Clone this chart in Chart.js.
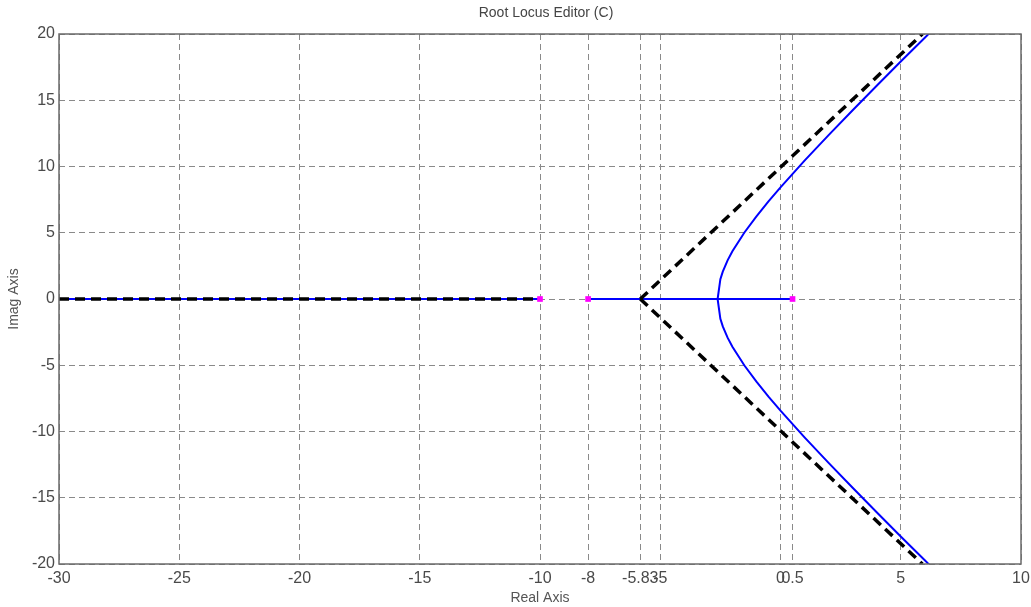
<!DOCTYPE html>
<html>
<head>
<meta charset="utf-8">
<script src="https://cdn.jsdelivr.net/npm/chart.js@4/dist/chart.umd.min.js"></script>
<style>
  html, body { margin: 0; padding: 0; background: #fff; }
  #wrap { width: 1031px; height: 607px; }
</style>
</head>
<body>
<div id="wrap"><canvas id="locus"></canvas></div>
<script>
// tick positions on the real axis (includes centroid -5.83)
const xTicks = [-30, -25, -20, -15, -10, -8, -5.83, -5, 0, 0.5, 5, 10];
const yTicks = [-20, -15, -10, -5, 0, 5, 10, 15, 20];

// open-loop poles
const poleRe = [-10, -8, 0.5];
const poleIm = [0, 0, 0];

// real-axis parts of the locus
const realLeftRe = [-30, -10];
const realMidRe = [-8, 0.5];

// upper complex branch (lower one is its mirror)
const branchRe = [-2.615, -2.5, -2.4, -2.2, -2.0, -1.5, -1.0, -0.5, 0, 1, 2, 3, 4, 5, 6, 6.2];
const branchIm = [0, 1.5, 2.07, 2.92, 3.61, 5.02, 6.24, 7.37, 8.43, 10.44, 12.37, 14.25, 16.09, 17.92, 19.72, 20.08];

// asymptotes
const asymRe = [-5.83, 5.9];
const asymIm = [0, 20];
const asymRealRe = [-30, -10];

const titleText = 'Root Locus Editor (C)';
const font = 'Liberation Sans, Arial, sans-serif';

const pts = (xs, ys) => xs.map((x, i) => ({ x: x, y: ys[i] }));
const onAxis = xs => xs.map(x => ({ x: x, y: 0 }));
const mirror = arr => arr.map(p => ({ x: p.x, y: -p.y }));

const blue = '#0000ff';
const dash = { showLine: true, pointRadius: 0, fill: false, borderColor: '#000', borderWidth: 3.5, borderDash: [10, 6] };
const solid = { showLine: true, pointRadius: 0, fill: false, borderColor: blue, borderWidth: 2 };

const upper = pts(branchRe, branchIm);
const asymUp = pts(asymRe, asymIm);

// box around the axes + title over the plot area
const frame = {
  id: 'frame',
  afterDraw(chart) {
    const { ctx, chartArea: a } = chart;
    ctx.save();
    ctx.strokeStyle = '#6a6a6a';
    ctx.lineWidth = 1.5;
    ctx.setLineDash([]);
    ctx.strokeRect(a.left, a.top, a.right - a.left, a.bottom - a.top);
    ctx.fillStyle = '#444';
    ctx.font = '14px ' + font;
    ctx.textAlign = 'center';
    ctx.textBaseline = 'middle';
    ctx.fillText(titleText, (a.left + a.right) / 2 + 6, 13);
    ctx.restore();
  }
};

new Chart(document.getElementById('locus'), {
  type: 'scatter',
  data: {
    datasets: [
      { data: pts(poleRe, poleIm), pointStyle: 'rect', pointRadius: 4, pointHoverRadius: 4,
        backgroundColor: '#ff00ff', borderColor: '#ff00ff', borderWidth: 0, showLine: false },
      { ...dash, data: asymUp },
      { ...dash, data: mirror(asymUp) },
      { ...dash, data: onAxis(asymRealRe) },
      { ...solid, data: onAxis(realLeftRe) },
      { ...solid, data: onAxis(realMidRe) },
      { ...solid, data: upper },
      { ...solid, data: mirror(upper) }
    ]
  },
  options: {
    responsive: true,
    maintainAspectRatio: false,
    animation: false,
    layout: { padding: { top: 34, right: 10, left: 0, bottom: 0 } },
    plugins: {
      legend: { display: false },
      tooltip: { enabled: false },
      title: { display: false }
    },
    scales: {
      x: {
        type: 'linear',
        min: -30, max: 10,
        afterBuildTicks: s => { s.ticks = xTicks.map(v => ({ value: v })); },
        afterFit: s => { s.height = 43; s.paddingLeft = 0; s.paddingRight = 0; },
        ticks: {
          autoSkip: false, maxRotation: 0, padding: 5, color: '#4a4a4a',
          font: { family: font, size: 16 },
          callback: v => String(v)
        },
        grid: { color: '#8a8a8a', lineWidth: 1, drawTicks: false },
        border: { display: false, dash: [6, 4] },
        title: {
          display: true, text: 'Real Axis', color: '#555',
          font: { family: font, size: 14 },
          padding: { top: 0, bottom: 0 }
        }
      },
      y: {
        type: 'linear',
        min: -20, max: 20,
        afterBuildTicks: s => { s.ticks = yTicks.map(v => ({ value: v })); },
        afterFit: s => { s.width = 59; },
        ticks: {
          padding: 4, color: '#4a4a4a',
          font: { family: font, size: 16 },
          callback: v => String(v)
        },
        grid: { color: '#8a8a8a', lineWidth: 1, drawTicks: false },
        border: { display: false, dash: [6, 4] },
        title: {
          display: true, text: 'Imag Axis', color: '#555',
          font: { family: font, size: 14 },
          padding: { top: 6, bottom: 0 }
        }
      }
    }
  },
  plugins: [frame]
});
</script>
</body>
</html>
